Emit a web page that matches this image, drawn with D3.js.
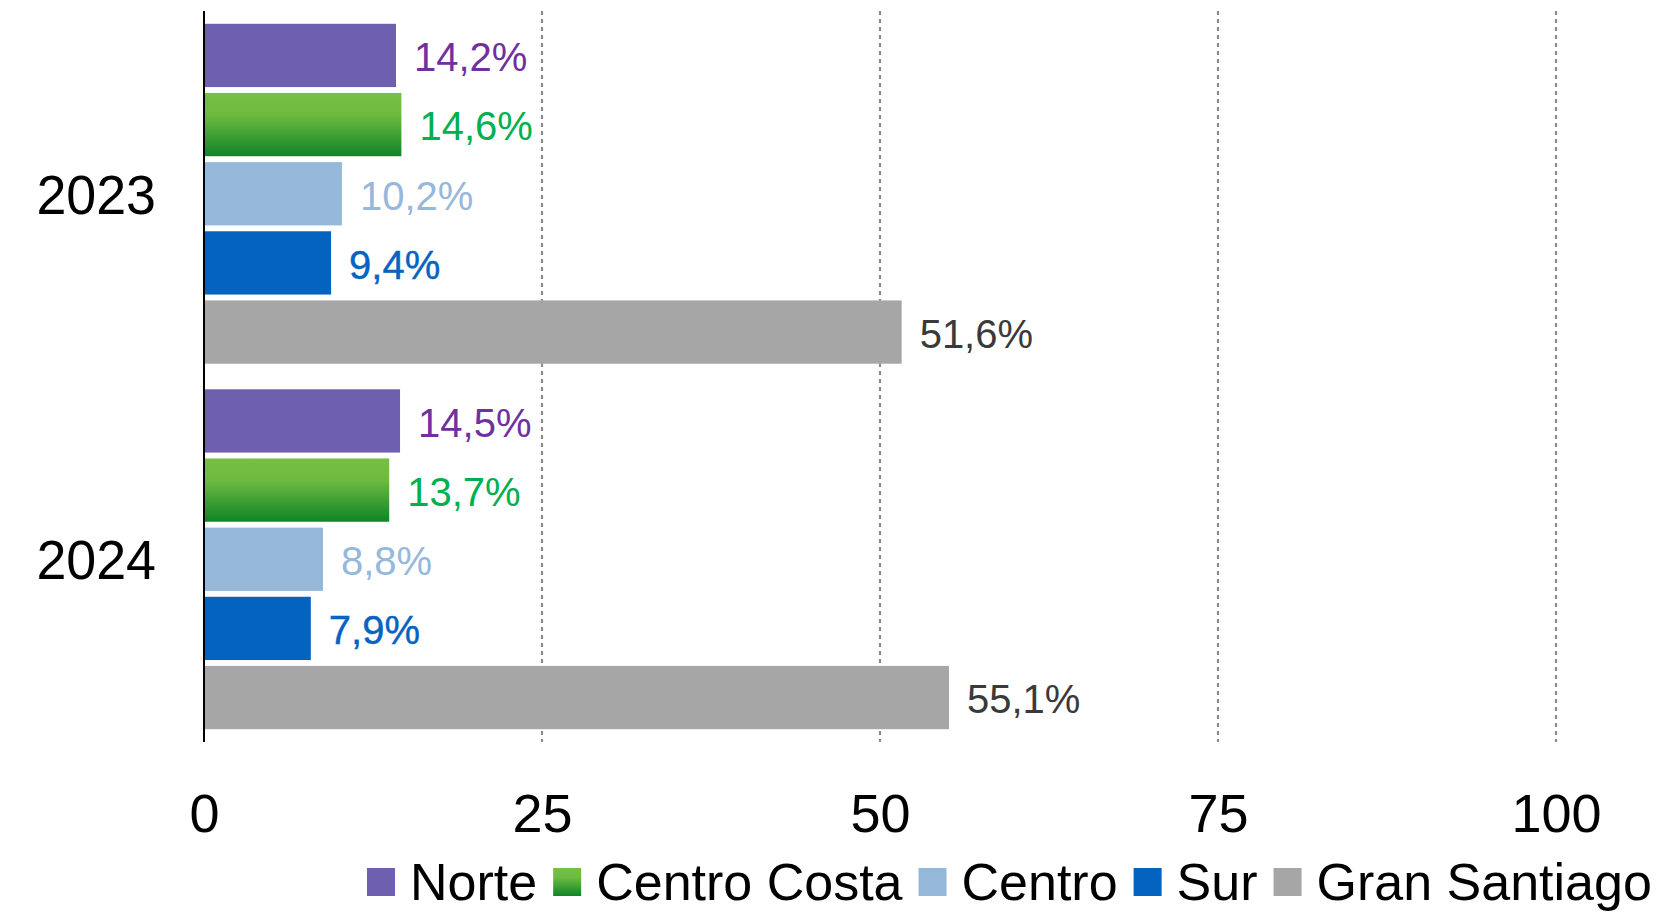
<!DOCTYPE html>
<html>
<head>
<meta charset="utf-8">
<script src="https://cdn.jsdelivr.net/npm/d3@7"></script>
<style>
  html, body { margin: 0; padding: 0; background: #fff; }
  #chart { width: 1659px; height: 915px; }
  text { font-family: "Liberation Sans", Arial, sans-serif; }
</style>
</head>
<body>
<div id="chart"></div>
<script>
const years = ['2023', '2024'];
const regions = ['Norte', 'Centro Costa', 'Centro', 'Sur', 'Gran Santiago'];
const norte = [14.2, 14.5];
const centroCosta = [14.6, 13.7];
const centro = [10.2, 8.8];
const sur = [9.4, 7.9];
const granSantiago = [51.6, 55.1];
const xTicks = [0, 25, 50, 75, 100];

const seriesValues = [norte, centroCosta, centro, sur, granSantiago];
const barColors = ['#6e60ae', 'url(#greenGrad)', '#95b8d9', '#0563c0', '#a6a6a6'];
const labelColors = ['#7030a0', '#00b050', '#95b8db', '#0563c1', '#3a3a3a'];

const rows = [];
years.forEach((year, yi) => {
  regions.forEach((region, ri) => {
    rows.push({ year, region, ri, value: seriesValues[ri][yi] });
  });
});

const fmt = (v) => v.toFixed(1).replace('.', ',') + '%';

const width = 1659;
const height = 915;
const margin = { left: 204, right: 103, top: 11, bottom: 173 };

const svg = d3.select('#chart').append('svg')
  .attr('width', width)
  .attr('height', height);

// green gradient for Centro Costa
const grad = svg.append('defs').append('linearGradient')
  .attr('id', 'greenGrad')
  .attr('x1', 0).attr('y1', 0).attr('x2', 0).attr('y2', 1);
grad.append('stop').attr('offset', '0%').attr('stop-color', '#76c043');
grad.append('stop').attr('offset', '35%').attr('stop-color', '#6cba40');
grad.append('stop').attr('offset', '100%').attr('stop-color', '#0f8427');

const x = d3.scaleLinear()
  .domain([0, 100])
  .range([margin.left, width - margin.right]);

const y0 = d3.scaleBand()
  .domain(years)
  .range([margin.top, height - margin.bottom])
  .paddingInner(0.07)
  .paddingOuter(0.035);

const y1 = d3.scaleBand()
  .domain(regions)
  .range([0, y0.bandwidth()])
  .paddingInner(0.085);

const plotBottom = height - margin.bottom;

// dashed gridlines
svg.append('g')
  .selectAll('line')
  .data(xTicks.filter((d) => d > 0))
  .enter()
  .append('line')
  .attr('x1', (d) => x(d))
  .attr('x2', (d) => x(d))
  .attr('y1', margin.top)
  .attr('y2', plotBottom)
  .attr('stroke', '#8c8c8c')
  .attr('stroke-width', 2.2)
  .attr('stroke-dasharray', '4,4');

// bars
svg.append('g')
  .selectAll('rect')
  .data(rows)
  .enter()
  .append('rect')
  .attr('x', x(0))
  .attr('y', (d) => y0(d.year) + y1(d.region))
  .attr('width', (d) => x(d.value) - x(0))
  .attr('height', y1.bandwidth())
  .attr('fill', (d) => barColors[d.ri]);

// value labels
svg.append('g')
  .selectAll('text')
  .data(rows)
  .enter()
  .append('text')
  .attr('transform', (d) => {
    const tx = x(d.value) + 18;
    const ty = y0(d.year) + y1(d.region) + y1.bandwidth() / 2 + 0.358 * 40 + 1.5;
    return `translate(${tx},${ty})`;
  })
  .attr('font-size', 40)
  .attr('fill', (d) => labelColors[d.ri])
  .attr('stroke', (d) => (d.region === 'Sur' ? labelColors[d.ri] : 'none'))
  .attr('stroke-width', 0.4)
  .text((d) => fmt(d.value));

// vertical axis line
svg.append('line')
  .attr('x1', x(0))
  .attr('x2', x(0))
  .attr('y1', margin.top)
  .attr('y2', plotBottom)
  .attr('stroke', '#000')
  .attr('stroke-width', 2);

// year labels
svg.append('g')
  .selectAll('text')
  .data(years)
  .enter()
  .append('text')
  .attr('transform', (d) => `translate(${x(0) - 48},${y0(d) + y0.bandwidth() / 2 + 0.358 * 56}) scale(0.96,1)`)
  .attr('text-anchor', 'end')
  .attr('font-size', 56)
  .attr('fill', '#000')
  .text((d) => d);

// x axis tick labels
const xAxis = d3.axisBottom(x)
  .tickValues(xTicks)
  .tickSize(0)
  .tickFormat(d3.format('d'));

const gx = svg.append('g')
  .attr('transform', `translate(0,${plotBottom})`)
  .call(xAxis);
gx.select('.domain').remove();
gx.selectAll('text')
  .attr('y', 90)
  .attr('dy', 0)
  .attr('font-size', 54)
  .attr('font-family', '"Liberation Sans", Arial, sans-serif')
  .attr('fill', '#000');

// legend
const legend = svg.append('g').attr('class', 'legend');
let lx = 367;
regions.forEach((name, i) => {
  legend.append('rect')
    .attr('x', lx)
    .attr('y', 868)
    .attr('width', 28)
    .attr('height', 28)
    .attr('fill', barColors[i]);
  lx += 28 + 15;
  const t = legend.append('text')
    .attr('transform', `translate(${lx},900)`)
    .attr('font-size', 52)
    .attr('fill', '#000')
    .text(name);
  lx += t.node().getComputedTextLength() + 16;
});
</script>
</body>
</html>
